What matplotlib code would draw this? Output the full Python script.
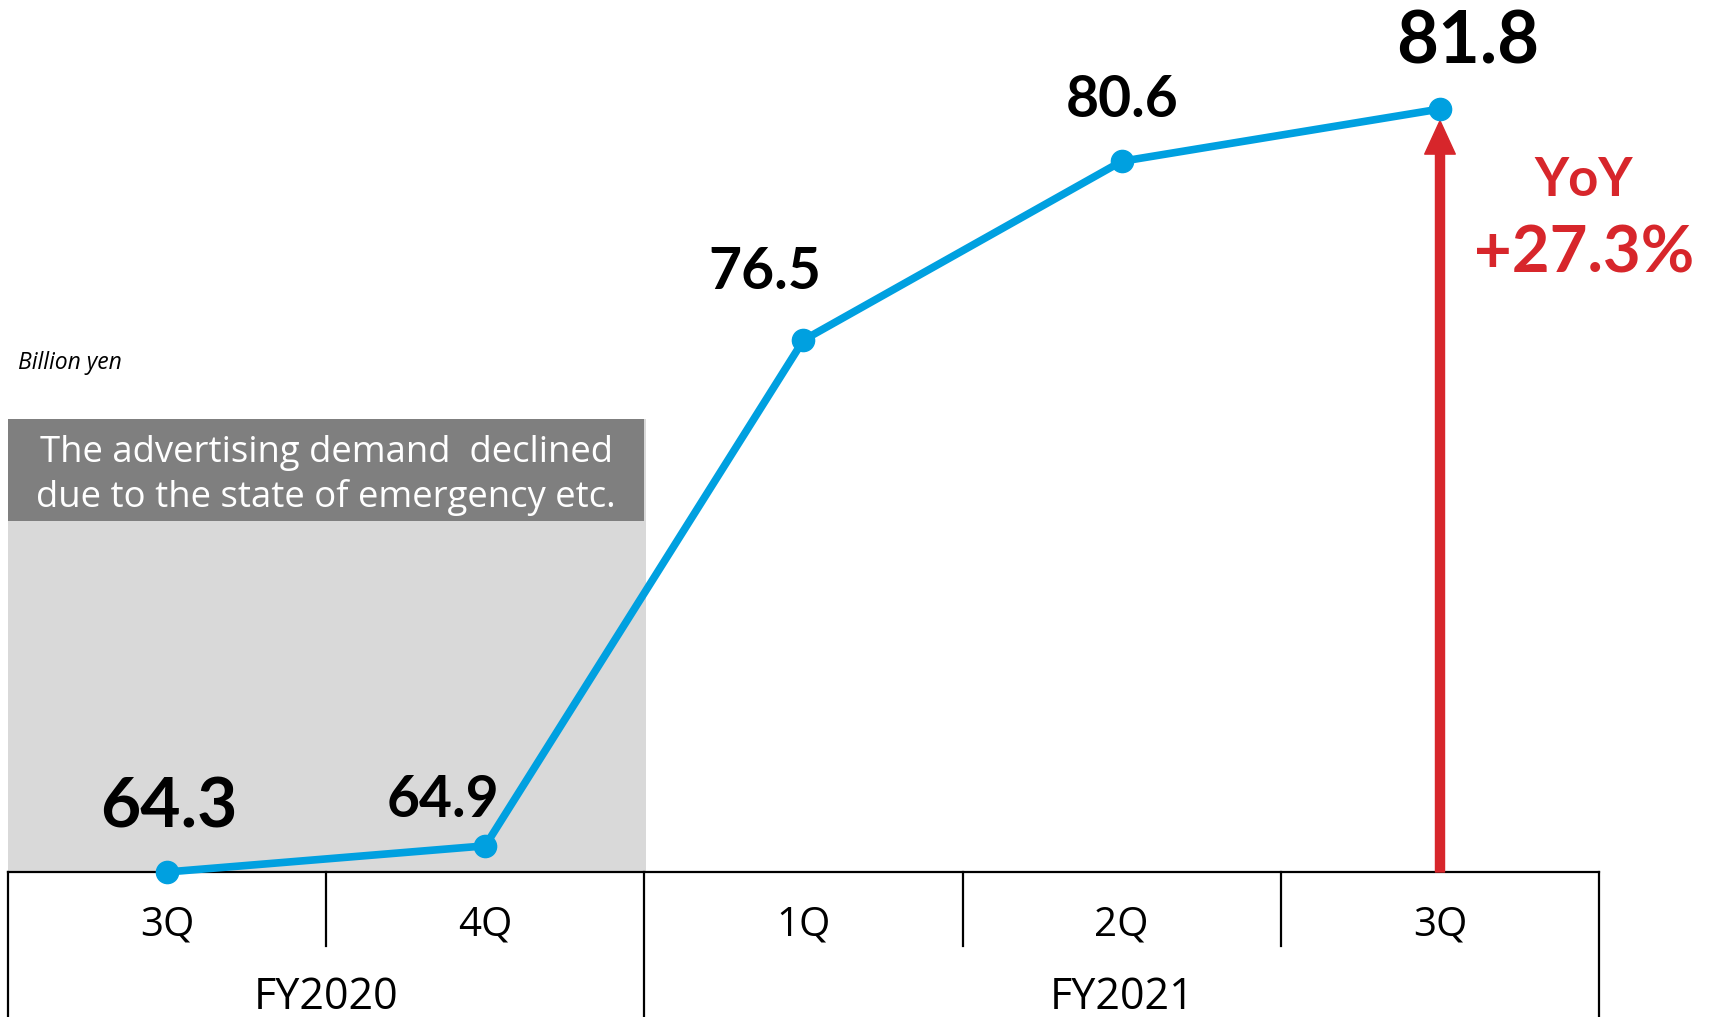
import matplotlib
matplotlib.use("Agg")
import matplotlib.pyplot as plt
from matplotlib.patches import Rectangle

# Quarterly figures, billion yen
quarters = ["3Q", "4Q", "1Q", "2Q", "3Q"]
fiscal_years = ["FY2020", "FY2021"]
fy_spans = [(0, 1), (2, 4)]
values = [64.3, 64.9, 76.5, 80.6, 81.8]
yoy_title = "YoY"
yoy_label = "+27.3%"
note_lines = ["The advertising demand  declined", "due to the state of emergency etc."]
unit_label = "Billion yen"

BLUE = "#00a0e0"
RED = "#d7262b"
W, H = 1709, 1017
BASE = 872          # pixel row of the axis line
X0, DX = 167, 318.25  # pixel of first category, pixel step
PX_PER_UNIT = 43.6

fig = plt.figure(figsize=(W / 100, H / 100), dpi=100)
ax = fig.add_axes([0, (H - BASE) / H, 1, BASE / H])
ax.set_xlim(-X0 / DX, (W - X0) / DX)
ax.set_ylim(values[0], values[0] + BASE / PX_PER_UNIT)
ax.axis("off")
xt = ax.get_xaxis_transform()
n = len(quarters)
xs = list(range(n))

# shaded period + header box
ax.add_patch(Rectangle((-0.5, 0), 2.005, 453 / BASE, transform=xt,
                       facecolor="#d9d9d9", edgecolor="none", zorder=0, clip_on=False))
ax.add_patch(Rectangle((-0.5, 351 / BASE), 2, 102 / BASE, transform=xt,
                       facecolor="#7f7f7f", edgecolor="none", zorder=1, clip_on=False))
for line, py in zip(note_lines, [462, 507]):
    ax.text(0.5, (BASE - py) / BASE, line, transform=xt, ha="center", va="baseline",
            color="white", fontsize=26.3, family="Open Sans", zorder=2)

fig.text(18 / W, 1 - 369 / H, unit_label, fontsize=16.5, style="italic",
         family="Open Sans", ha="left", va="baseline")

# YoY arrow on last quarter
ax.annotate("", xy=(xs[-1], values[-1] - 0.27), xytext=(xs[-1], values[0]),
            arrowprops=dict(width=6.5, headwidth=22, headlength=24, shrink=0,
                            facecolor=RED, edgecolor=RED), zorder=3)
ax.text(xs[-1] + 144 / DX, values[-1] - 2.0, yoy_title, color=RED, fontsize=38,
        family="Lato", weight="bold", ha="center", va="baseline")
ax.text(xs[-1] + 144 / DX, values[-1] - 3.75, yoy_label, color=RED, fontsize=47,
        family="Lato", weight="bold", ha="center", va="baseline")

# main line
ax.plot(xs, values, color=BLUE, lw=5.5, marker="o", ms=16, zorder=4, clip_on=False)

# value labels (pixel offsets from each point to label baseline centre)
label_dx = [2, -42, -39, 0, 28]
label_dy = [44, 29, 51, 44, 46]
label_size = [50, 41, 41, 41, 52]
for x, v, dx, dy, fs in zip(xs, values, label_dx, label_dy, label_size):
    ax.annotate(f"{v:.1f}", (x, v), xytext=(dx, dy), textcoords="offset pixels",
                ha="center", va="baseline", fontsize=fs, family="Lato",
                weight="bold", zorder=5)

# category table under the axis
line_kw = dict(color="black", lw=1.6, transform=xt, clip_on=False)
ax.plot([-0.5, n - 0.5], [0, 0], **line_kw)
bottom = -(H - BASE) / BASE
short_end = -74 / BASE
fy_edges = [-0.5] + [end + 0.5 for _, end in fy_spans]
for b in fy_edges:
    ax.plot([b, b], [0, bottom], **line_kw)
for i in range(n - 1):
    b = i + 0.5
    if b not in fy_edges:
        ax.plot([b, b], [0, short_end], **line_kw)
for x, q in zip(xs, quarters):
    ax.text(x, -63 / BASE, q, transform=xt, ha="center", va="baseline",
            fontsize=29, family="Open Sans")
for (s, e), fy in zip(fy_spans, fiscal_years):
    ax.text((s + e) / 2, -137 / BASE, fy, transform=xt, ha="center", va="baseline",
            fontsize=31, family="Open Sans")

fig.savefig("out.png", dpi=100)
